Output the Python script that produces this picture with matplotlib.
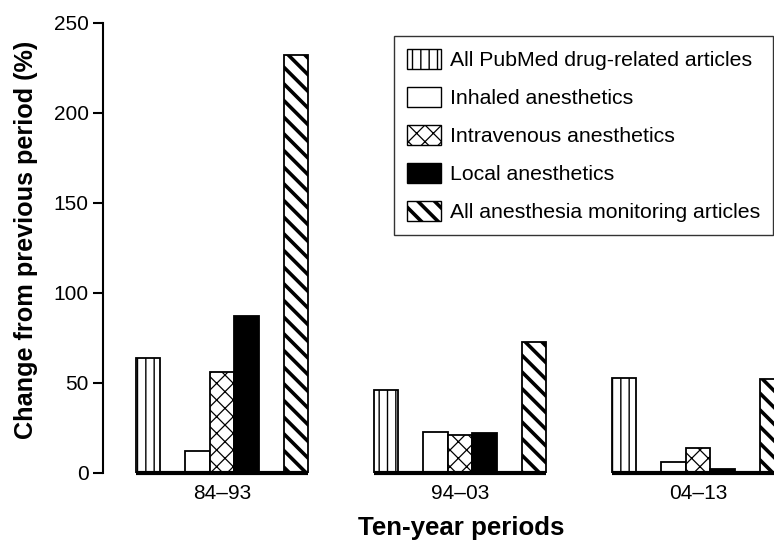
import numpy as np
import matplotlib
matplotlib.use("Agg")
import matplotlib.pyplot as plt
from matplotlib.patches import Rectangle

plt.rcParams['font.family'] = ['Liberation Sans', 'DejaVu Sans']

periods = ["84\u201393", "94\u201303", "04\u201313"]
labels = ["All PubMed drug-related articles", "Inhaled anesthetics",
          "Intravenous anesthetics", "Local anesthetics",
          "All anesthesia monitoring articles"]
pubmed = [64, 46, 53]
inhaled = [12, 23, 6]
intravenous = [56, 21, 14]
local = [87, 22, 2]
monitoring = [232, 73, 52]

series = [pubmed, inhaled, intravenous, local, monitoring]
# bar styles: (facecolor, hatch, hatch linewidth)
styles = [("white", "||", 1.0),
          ("white", "", 1.0),
          ("white", "xx", 0.9),
          ("black", "", 1.0),
          ("white", "\\\\", 2.6)]
slots = [-3, -1, 0, 1, 3]
w = 0.1038

fig = plt.figure(figsize=(7.74, 5.41), dpi=100)
ax = fig.add_axes([103 / 774, 68 / 541, 714 / 774, 450 / 541])

x = np.arange(len(periods))


def set_hlw(patch, hlw):
    patch._hatch_linewidth = hlw


def make_bar(xpos, vals, fc, hatch, hlw):
    with plt.rc_context({'hatch.linewidth': hlw, 'hatch.color': 'black'}):
        bars = ax.bar(xpos, vals, width=w, color=fc, edgecolor="black",
                      linewidth=1.3, hatch=hatch if hatch else None)
    for b in bars:
        set_hlw(b, hlw)
    return bars


for vals, (fc, hatch, hlw), s in zip(series, styles, slots):
    make_bar(x + s * w, vals, fc, hatch, hlw)

# baseline under each group only
for xi in x:
    ax.hlines(0, xi - 3.5 * w, xi + 3.5 * w, color="black", lw=3,
              clip_on=False, zorder=5)

ax.set_xlim(-0.5, 2.5)
ax.set_ylim(0, 250)
ax.set_yticks([0, 50, 100, 150, 200, 250])
ax.set_xticks(x)
ax.set_xticklabels(periods)
for sp in ("top", "right", "bottom"):
    ax.spines[sp].set_visible(False)
ax.spines["left"].set_linewidth(1.5)
ax.tick_params(axis="y", length=7.2, width=1.5, pad=3, labelsize=15)
ax.tick_params(axis="x", length=0, pad=8, labelsize=15)

# legend with hand-built handles
handles = []
for (fc, hatch, hlw) in styles:
    r = Rectangle((0, 0), 1, 1, facecolor=fc, edgecolor="black",
                  linewidth=1.0, hatch=hatch if hatch else None)
    handles.append(r)

leg = ax.legend(handles, labels, loc="upper left",
                bbox_to_anchor=(394 / 774, 1 - 36 / 541),
                bbox_transform=fig.transFigure, borderaxespad=0,
                fontsize=15.3, frameon=True, fancybox=False,
                handlelength=1.6, handleheight=1.1, handletextpad=0.45,
                labelspacing=0.78, borderpad=0.6)
leg.get_frame().set_edgecolor("black")
leg.get_frame().set_linewidth(1.0)
for p, (fc, hatch, hlw) in zip(leg.get_patches(), styles):
    set_hlw(p, hlw)

fig.text(26 / 774, 1 - 240 / 541, "Change from previous period (%)",
         rotation=90, ha="center", va="center", fontsize=18.2,
         fontweight="bold")
fig.text(461 / 774, 1 - 528 / 541, "Ten-year periods", ha="center",
         va="center", fontsize=18.6, fontweight="bold")

fig.savefig("out.png", dpi=100)
